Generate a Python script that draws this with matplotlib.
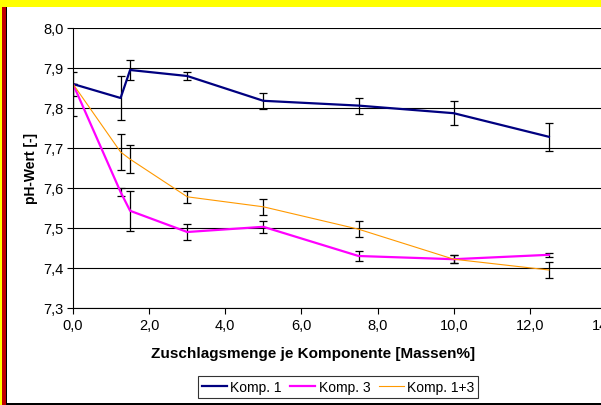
import matplotlib
matplotlib.use('Agg')
import matplotlib.pyplot as plt
from matplotlib.patches import Rectangle
from matplotlib.lines import Line2D
from matplotlib.ticker import FuncFormatter

plt.rcParams['font.family'] = ['Liberation Sans', 'DejaVu Sans']

# data
x = [0, 1.25, 1.5, 3, 5, 7.5, 10, 12.5]
komp1 = [7.86, 7.825, 7.895, 7.880, 7.818, 7.806, 7.787, 7.728]
err1 = [0.03, 0.055, 0.025, 0.01, 0.02, 0.02, 0.03, 0.035]
komp3 = [7.86, 7.59, 7.543, 7.49, 7.503, 7.43, 7.422, 7.433]
err3 = [0.0, 0.01, 0.05, 0.02, 0.015, 0.013, 0.01, 0.005]
komp13 = [7.86, 7.69, 7.672, 7.578, 7.553, 7.497, 7.422, 7.395]
err13_lo = [0.08, 0.046, 0.035, 0.015, 0.02, 0.02, 0.01, 0.02]
err13_hi = [0.0, 0.046, 0.035, 0.015, 0.02, 0.02, 0.01, 0.02]
names = ['Komp. 1', 'Komp. 3', 'Komp. 1+3']
colors = ['#000080', '#FF00FF', '#FF9900']
widths = [1.6, 1.6, 0.8]

W, H = 601, 406
fig = plt.figure(figsize=(W / 100, H / 100), dpi=100)


def box(x0, y0, w, h, color):
    # rectangle in pixel coords, y from top
    fig.add_artist(Rectangle((x0 / W, 1 - (y0 + h) / H), w / W, h / H,
                             transform=fig.transFigure, color=color, lw=0))


ax = fig.add_axes([73 / W, (H - 309) / H, (606 - 73) / W, 280 / H])

ebkw = dict(ecolor='black', elinewidth=0.9, capsize=2.6, capthick=0.9)
ax.errorbar(x, komp1, yerr=err1, color=colors[0], lw=widths[0], **ebkw)
ax.errorbar(x, komp3, yerr=err3, color=colors[1], lw=widths[1], **ebkw)
ax.errorbar(x, komp13, yerr=[err13_lo, err13_hi], color=colors[2], lw=widths[2], **ebkw)

ax.set_xlim(0, 14)
ax.set_ylim(7.3, 8.0)
ax.set_xticks([0, 2, 4, 6, 8, 10, 12, 14])
ax.set_yticks([7.3, 7.4, 7.5, 7.6, 7.7, 7.8, 7.9, 8.0])
fmt = FuncFormatter(lambda v, p: f'{v:.1f}'.replace('.', ','))
ax.xaxis.set_major_formatter(fmt)
ax.yaxis.set_major_formatter(fmt)
ax.tick_params(labelsize=10.5, length=4, width=0.8, color='black', pad=3)
ax.yaxis.grid(True, color='black', lw=0.8)
ax.set_axisbelow(True)
for s in ['top', 'right']:
    ax.spines[s].set_visible(False)
for s in ['left', 'bottom']:
    ax.spines[s].set_linewidth(0.8)

fig.text(313 / W, 1 - 354 / H, 'Zuschlagsmenge je Komponente [Massen%]',
         ha='center', va='center', fontsize=11, fontweight='bold')
fig.text(31 / W, 1 - 169 / H, 'pH-Wert [-]', ha='center', va='center',
         rotation=90, fontsize=10, fontweight='bold')

handles = [Line2D([], [], color=c, lw=w) for c, w in zip(colors, widths)]
leg = fig.legend(handles, names, loc='center', ncol=3,
                 bbox_to_anchor=(338 / W, 1 - 388 / H), fontsize=10,
                 frameon=True, fancybox=False, edgecolor='black',
                 handlelength=1.8, handletextpad=0.25, columnspacing=0.6,
                 borderpad=0.3, borderaxespad=0)
leg.get_frame().set_linewidth(0.8)

# frame decorations
box(0, 0, W, 8, '#FFFF00')
box(0, 0, W, 1, '#C8C896')
box(0, 8, 2, H - 8, '#FFFF00')
box(2, 8, 4, H - 8, '#C00000')
box(5.5, 8, 1.5, H - 8, 'black')
box(7, 404, W - 7, 2, 'black')

fig.savefig('out.png', dpi=100)
